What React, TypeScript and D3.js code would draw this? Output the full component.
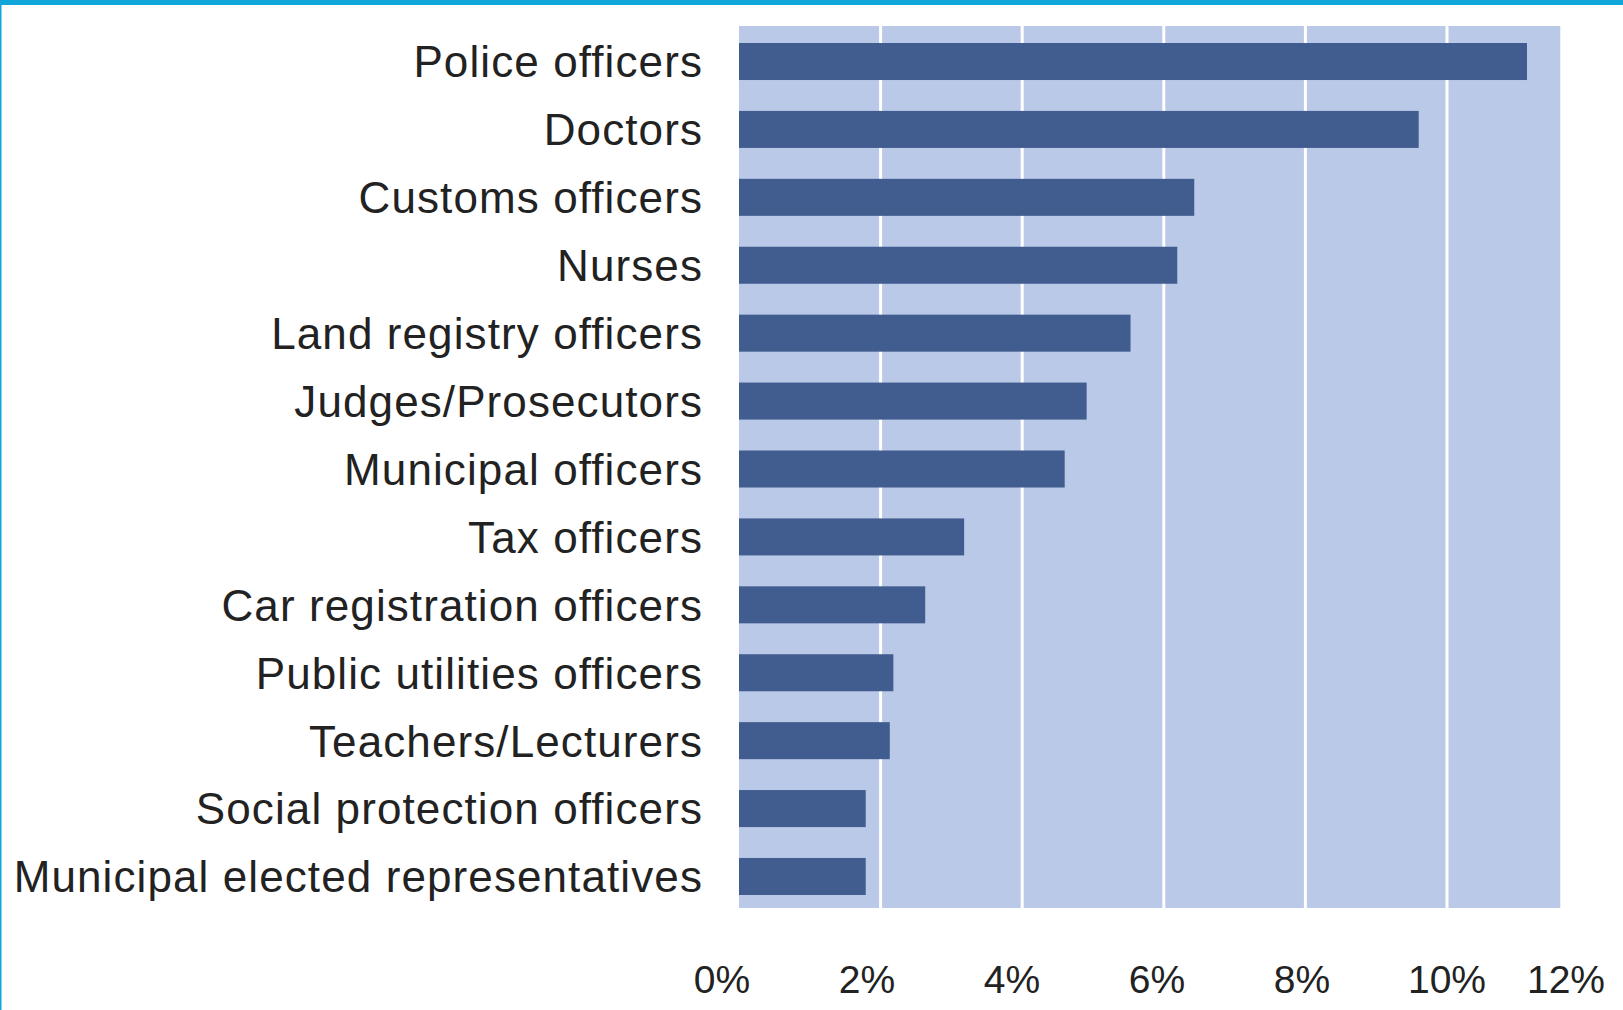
import React from "react";
import * as d3 from "d3";

const categories = [
  "Police officers",
  "Doctors",
  "Customs officers",
  "Nurses",
  "Land registry officers",
  "Judges/Prosecutors",
  "Municipal officers",
  "Tax officers",
  "Car registration officers",
  "Public utilities officers",
  "Teachers/Lecturers",
  "Social protection officers",
  "Municipal elected representatives",
];

const values = [11.13, 9.6, 6.43, 6.19, 5.53, 4.91, 4.6, 3.18, 2.63, 2.18, 2.13, 1.79, 1.79];

const ticks = [0, 2, 4, 6, 8, 10, 12];

const W = 1623;
const H = 1010;
const plotLeft = 739;
const plotTop = 26;
const plotBottom = 908;
const plotMax = 11.6;

export default function App() {
  const x = d3.scaleLinear().domain([0, 12]).range([plotLeft, 1588.6]);
  const xLabel = d3.scaleLinear().domain([0, 10]).range([722, 1447]);
  const y = d3.scaleBand<string>().domain(categories).range([43, 895]).paddingInner(0.455).paddingOuter(0);
  const font = "'Liberation Sans', Arial, sans-serif";

  return (
    <svg width={W} height={H} style={{ position: "absolute", left: 0, top: 0, background: "#fff" }}>
      <rect x={0} y={0} width={W} height={5} fill="#10a6d9" />
      <rect x={0} y={0} width={1.5} height={H} fill="#10a6d9" />
      <rect x={plotLeft} y={plotTop} width={x(plotMax) - plotLeft} height={plotBottom - plotTop} fill="#bac9e8" />
      {ticks.filter((t) => t > 0 && t < plotMax).map((t) => (
        <line key={t} x1={x(t)} x2={x(t)} y1={plotTop} y2={plotBottom} stroke="#fff" strokeWidth={3} />
      ))}
      {categories.map((c, i) => (
        <rect key={c} x={x(0)} y={y(c)} width={x(values[i]) - x(0)} height={y.bandwidth()} fill="#415c8e" />
      ))}
      {categories.map((c) => (
        <text
          key={c}
          x={703}
          y={(y(c) as number) + y.bandwidth() / 2}
          dy="0.36em"
          textAnchor="end"
          fontFamily={font}
          fontSize={44}
          letterSpacing={1.1}
          fill="#222"
        >
          {c}
        </text>
      ))}
      {ticks.map((t) => (
        <text
          key={t}
          x={Math.min(xLabel(t), W - 57)}
          y={993}
          textAnchor="middle"
          fontFamily={font}
          fontSize={39}
          fill="#222"
        >
          {t}%
        </text>
      ))}
    </svg>
  );
}
